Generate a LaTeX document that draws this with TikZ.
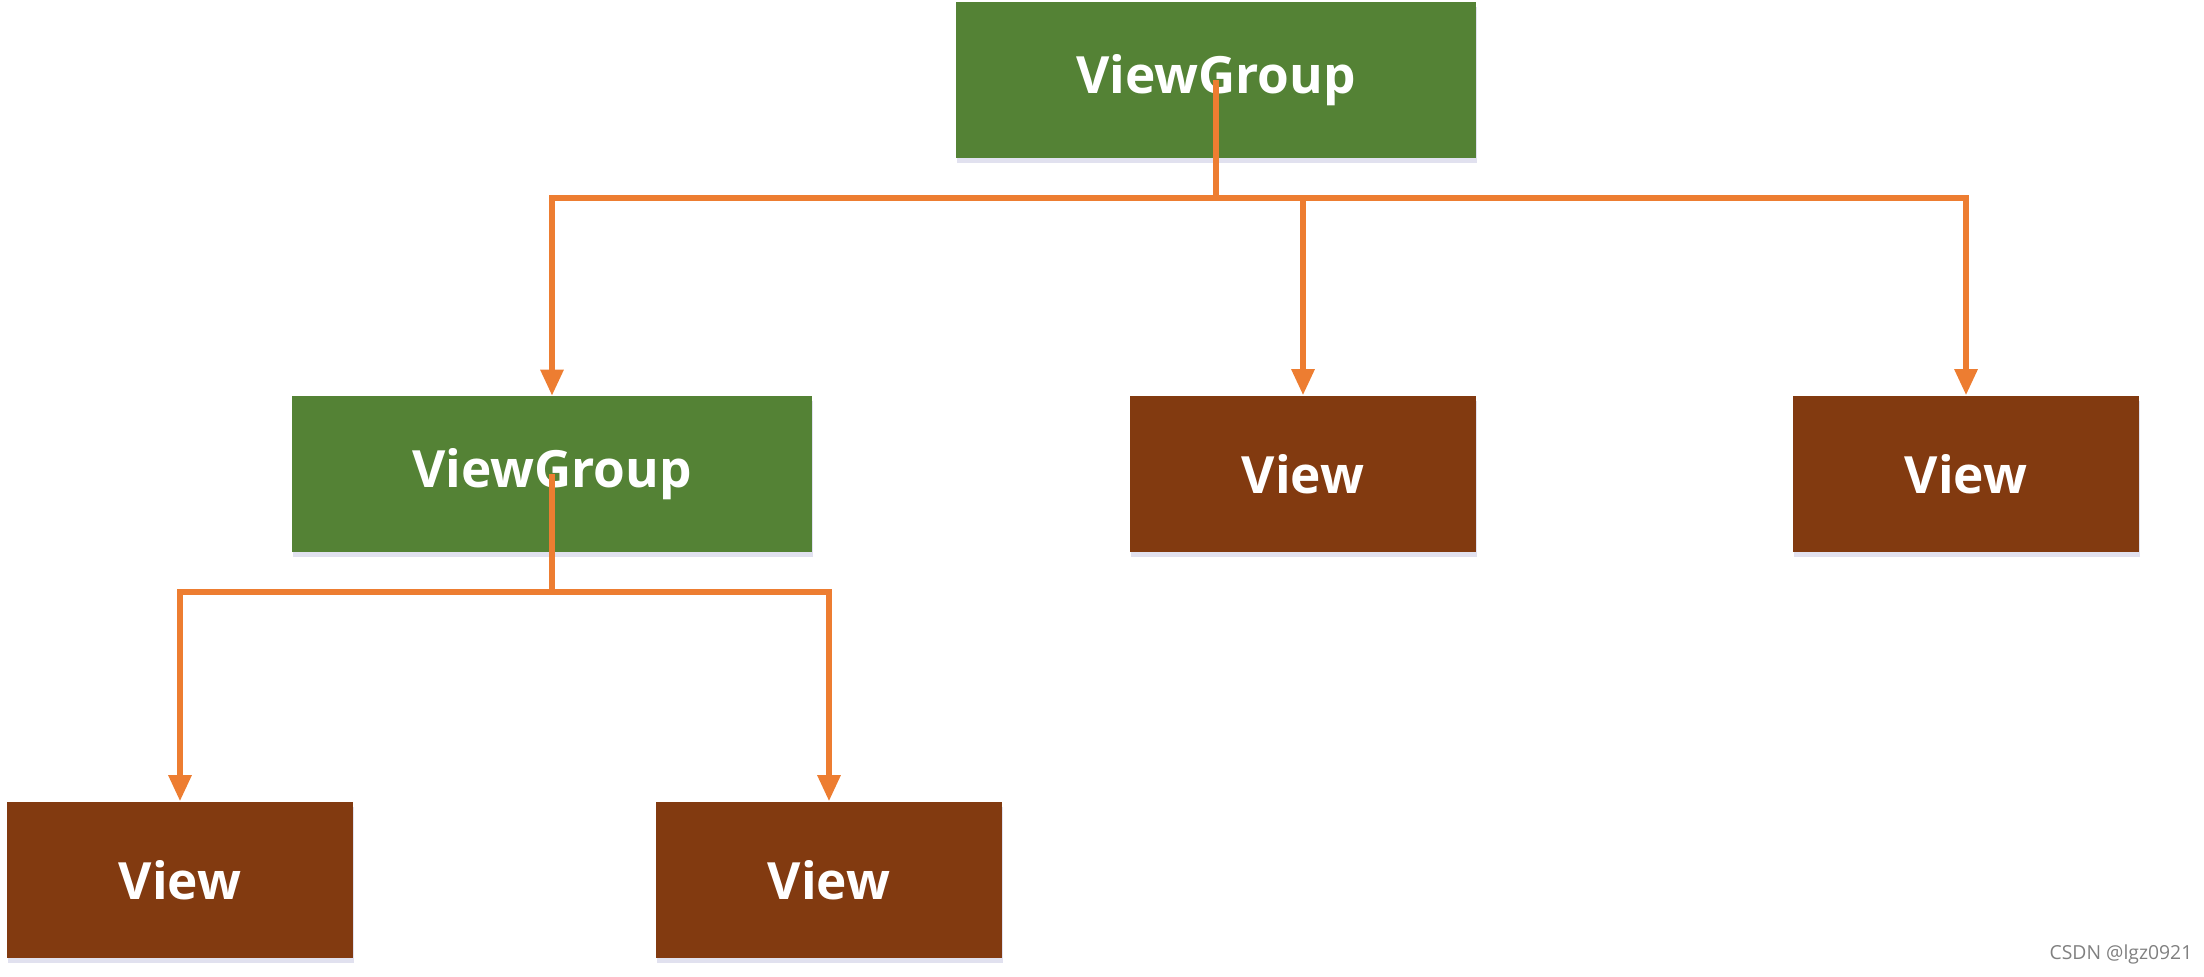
\documentclass[tikz,border=0pt]{standalone}
\usepackage{fontspec}
\setmainfont{Open Sans}
\usetikzlibrary{arrows.meta,shadows}

\definecolor{groupgreen}{RGB}{84,130,53}
\definecolor{viewbrown}{RGB}{130,58,16}
\definecolor{linkorange}{RGB}{237,125,49}

\tikzset{
    box/.style={rectangle, inner sep=0pt, text=white, font=\fontsize{14.6}{17}\selectfont\bfseries,
        drop shadow={shadow xshift=0.01cm, shadow yshift=-0.05cm, opacity=0.18, fill=blue!30!gray}},
    groupbox/.style={box, fill=groupgreen, minimum width=5.2cm, minimum height=1.55cm},
    viewbox/.style={box, fill=viewbrown, minimum width=3.46cm, minimum height=1.56cm},
    link/.style={draw=linkorange, line width=1.6pt},
    linkarrow/.style={link, -{Triangle[length=0.26cm,width=0.22cm]}}
}

\begin{document}
\begin{tikzpicture}[x=0.01cm, y=-0.01cm]
    \useasboundingbox (0,0) rectangle (2204,976);

    % Root group
    \node[groupbox] (vgroot) at (1216,80) {ViewGroup};

    % Second level
    \node[groupbox] (vgchild) at (552,474) {ViewGroup};
    \node[viewbox] (viewa) at (1303,474) {View};
    \node[viewbox] (viewb) at (1966,474) {View};

    % Third level
    \node[viewbox] (viewc) at (180,880) {View};
    \node[viewbox] (viewd) at (829,880) {View};

    % Bus points
    \coordinate (busroot) at (1216,198);
    \coordinate (buschild) at (552,592);

    % Root to its children
    \draw[link] (vgroot.center) -- (busroot);
    \draw[linkarrow] (busroot) -| (vgchild.north);
    \draw[linkarrow] (busroot) -| (viewa.north);
    \draw[linkarrow] (busroot) -| (viewb.north);

    % Child group to its views
    \draw[link] (vgchild.center) -- (buschild);
    \draw[linkarrow] (buschild) -| (viewc.north);
    \draw[linkarrow] (buschild) -| (viewd.north);

    % Watermark
    \node[anchor=east, text=gray, font=\fontsize{5.5}{6}\selectfont, inner sep=0pt] (mark) at (2193,954) {CSDN @lgz0921};
\end{tikzpicture}
\end{document}
